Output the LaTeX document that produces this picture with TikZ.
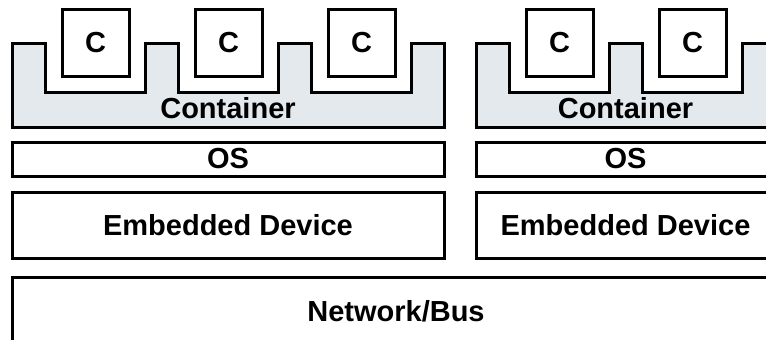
\documentclass[tikz,border=0pt]{standalone}
\usepackage{fontspec}
\setmainfont{Liberation Sans}
\usetikzlibrary{calc,math,positioning}
\definecolor{contgray}{RGB}{228,233,237}

\begin{document}
\begin{tikzpicture}[x=1pt,y=-1pt,
    outline/.style={draw=black,line width=3pt,line join=miter},
    layer/.style={outline,rectangle,inner sep=0pt,font=\bfseries\fontsize{29}{34}\selectfont},
    cbox/.style={layer,fill=white,minimum width=67pt,minimum height=67pt}]

  \useasboundingbox (0,0) rectangle (766,340);
  \clip (0,0) rectangle (766,340);

  \foreach \d/\n in {0/3,1/2}
   {

     \tikzmath{
       real \xo, \xe, \xm, \w;
       \xo = 12+464*\d;
       \xe = \xo+133*\n+33;
       \xm = (\xo+\xe)/2;
       \w = \xe-\xo;
     }

       % container with its slots
       \filldraw[outline,fill=contgray] (\xo,127) -- (\xo,43)
         \foreach \i in {1,...,\n} { -- ({\xo+133*\i-100},43) -- ({\xo+133*\i-100},92) -- ({\xo+133*\i},92) -- ({\xo+133*\i},43) }
         -- (\xe,43) -- (\xe,127) -- cycle;
       \node (cont_\d) [draw=none,font=\bfseries\fontsize{29}{34}\selectfont] at (\xm,108) {Container};

       \foreach \i in {1,...,\n}
         \node (c_\d_\i) [cbox] at ({\xo+133*\i-49.5},42.5) {C};

       \node (os_\d) [layer,minimum width=\w pt,minimum height=34pt] at (\xm,159) {OS};
       \node (dev_\d) [layer,minimum width=\w pt,minimum height=66pt,below=13pt of os_\d] {Embedded Device};

     }

     \node (bus) [layer,minimum width=767pt,minimum height=68pt,anchor=north west] at (11,276) {Network/Bus};

\end{tikzpicture}
\end{document}
